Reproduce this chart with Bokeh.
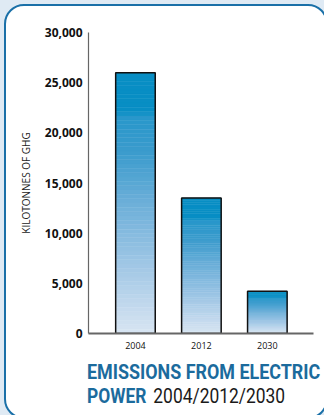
from bokeh.plotting import figure
from bokeh.layouts import column
from bokeh.models import Div, FixedTicker, NumeralTickFormatter, Range1d
from bokeh.embed import file_html
from bokeh.resources import INLINE

# Data: GHG emissions from electric power (kilotonnes)
years = ["2004", "2012", "2030"]
emissions = [26000, 13500, 4200]
y_ticks = [0, 5000, 10000, 15000, 20000, 25000, 30000]

# Styling
TITLE_BLUE = "#1b6b9d"
PANEL_LINE = "#1a70a8"
OUTER_BG = "#dfeaf4"
FONT = "Open Sans"
CAPTION_FONT = "Roboto"
BAR_W = 0.6
N_BANDS = 60
# vertical gradient stops, measured from top (0) to bottom (1) of each bar
STOPS = [(0.00, (8, 142, 196)), (0.15, (8, 142, 196)), (0.17, (40, 151, 203)),
         (0.30, (58, 155, 204)), (0.50, (108, 175, 217)), (0.75, (163, 200, 230)),
         (1.00, (216, 229, 242))]


def grad_color(t):
    for (t0, c0), (t1, c1) in zip(STOPS[:-1], STOPS[1:]):
        if t <= t1:
            f = 0 if t1 == t0 else (t - t0) / (t1 - t0)
            r, g, b = (round(a + (b_ - a) * f) for a, b_ in zip(c0, c1))
            return f"#{r:02x}{g:02x}{b:02x}"
    r, g, b = STOPS[-1][1]
    return f"#{r:02x}{g:02x}{b:02x}"


xs = list(range(1, len(years) + 1))

p = figure(width=318, height=350, output_backend="svg", toolbar_location=None,
           x_range=Range1d(0.288, 3.70), y_range=Range1d(0, 30000),
           min_border_left=82, min_border_right=11, min_border_top=26,
           min_border_bottom=23)
p.border_fill_alpha = 0
p.background_fill_color = "white"
p.outline_line_color = None
p.grid.visible = False

# Gradient-filled bars built from stacked bands
lefts, rights, bottoms, tops, colors = [], [], [], [], []
for x, v in zip(xs, emissions):
    for i in range(N_BANDS):
        lefts.append(x - BAR_W / 2)
        rights.append(x + BAR_W / 2)
        tops.append(v * (1 - i / N_BANDS))
        bottoms.append(v * (1 - (i + 1) / N_BANDS))
        colors.append(grad_color((i + 0.5) / N_BANDS))
p.quad(left=lefts, right=rights, bottom=bottoms, top=tops,
       fill_color=colors, line_color=colors, line_width=0.5)
p.vbar(x=xs, top=emissions, width=BAR_W, bottom=0, fill_color=None,
       line_color="#111111", line_width=1.5)

# Axes
for ax in (p.xaxis, p.yaxis):
    ax.major_tick_line_color = None
    ax.minor_tick_line_color = None
    ax.major_tick_out = 0
    ax.major_tick_in = 0
    ax.minor_tick_out = 0
    ax.axis_line_color = "#666666"
    ax.major_label_text_font = FONT
    ax.major_label_text_color = "#111111"

p.yaxis.ticker = FixedTicker(ticks=y_ticks)
p.yaxis.formatter = NumeralTickFormatter(format="0,0")
p.yaxis.axis_line_width = 1.2
p.yaxis.major_label_text_font_style = "bold"
p.yaxis.major_label_text_font_size = "12px"
p.yaxis.major_label_standoff = 6
p.yaxis.axis_label = "KILOTONNES OF GHG"
p.yaxis.axis_label_text_font = FONT
p.yaxis.axis_label_text_font_style = "normal"
p.yaxis.axis_label_text_font_size = "10px"
p.yaxis.axis_label_text_color = "#222222"
p.yaxis.axis_label_standoff = 9

p.xaxis.ticker = FixedTicker(ticks=xs)
p.xaxis.major_label_overrides = {x: y for x, y in zip(xs, years)}
p.xaxis.axis_line_width = 2
p.xaxis.major_label_text_font_size = "9px"
p.xaxis.major_label_standoff = 8


# Caption under the chart
def line_css(scale):
    return (f"font-family:'{CAPTION_FONT}'; font-size:20px; line-height:24px; height:24px; "
            f"white-space:nowrap; transform:scaleX({scale}); transform-origin:0 0;")


span_css = "display:inline-block; height:24px; line-height:24px; vertical-align:top;"
caption = Div(
    width=318, height=60,
    text=(
        "<div style=\"margin:-1px 0 0 76px;\">"
        f"<div style=\"{line_css(0.895)}\">"
        f"<span style=\"{span_css} font-weight:700; color:{TITLE_BLUE};\">"
        "EMISSIONS FROM ELECTRIC</span></div>"
        f"<div style=\"{line_css(0.87)}\">"
        f"<span style=\"{span_css} font-weight:700; color:{TITLE_BLUE};\">POWER</span>"
        f"<span style=\"{span_css} font-weight:400; color:#1a1a1a; margin-left:8px;\">"
        "2004/2012/2030</span>"
        "</div></div>"
    ),
)

# White rounded panel holding chart and caption, on a light blue page
panel = column(p, caption, spacing=0, styles={
    "background-color": "white",
    "border": f"2px solid {PANEL_LINE}",
    "border-radius": "20px",
    "overflow": "hidden",
    "margin": "4px 0 0 4px",
})
page = column(panel, width=324, height=415, styles={
    "background-color": OUTER_BG,
    "overflow": "hidden",
})

open("out.html", "w").write(file_html(page, INLINE))
